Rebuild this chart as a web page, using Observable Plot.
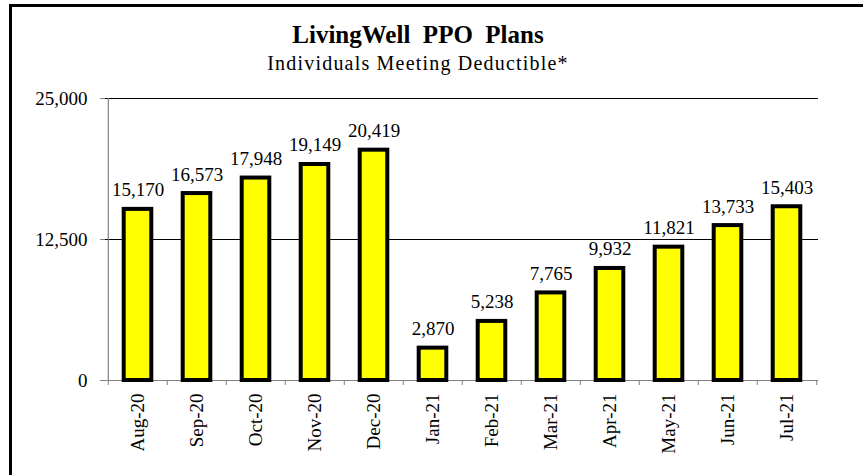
<!DOCTYPE html>
<html>
<head>
<meta charset="utf-8">
<script src="https://cdn.jsdelivr.net/npm/d3@7"></script>
<script src="https://cdn.jsdelivr.net/npm/@observablehq/plot@0.6"></script>
<style>
  html, body { margin: 0; padding: 0; background: #fff; }
  #wrap { position: relative; width: 863px; height: 475px; overflow: hidden; font-family: "Liberation Serif", serif; }
  #frame { position: absolute; left: 9px; top: 4px; width: 900px; height: 520px; border: 3px solid #000; box-sizing: border-box; }
  #title { position: absolute; left: 0; width: 836px; top: 21px; text-align: center; font-weight: bold; font-size: 25px; white-space: pre; line-height: 28px; }
  #subtitle { position: absolute; left: 0; width: 836px; top: 52px; text-align: center; font-size: 20px; letter-spacing: 1.2px; line-height: 22px; }
  #chart { position: absolute; left: 0; top: 0; }
</style>
</head>
<body>
<div id="wrap">
  <div id="frame"></div>
  <div id="chart"></div>
  <div id="title">LivingWell  PPO  Plans</div>
  <div id="subtitle">Individuals Meeting Deductible*</div>
</div>
<script>
const months = ["Aug-20","Sep-20","Oct-20","Nov-20","Dec-20","Jan-21","Feb-21","Mar-21","Apr-21","May-21","Jun-21","Jul-21"];
const values = [15170, 16573, 17948, 19149, 20419, 2870, 5238, 7765, 9932, 11821, 13733, 15403];
const yTicks = [0, 12500, 25000];

const data = months.map((m, i) => ({month: m, value: values[i]}));

const W = 863, H = 475, mL = 105, mR = 45, mT = 98, mB = 95;
const bw = (W - mL - mR) / months.length;
const gray = "#808080";
const fmt = d3.format(",");

const chart = Plot.plot({
  width: W,
  height: H,
  marginLeft: mL,
  marginRight: mR,
  marginTop: mT,
  marginBottom: mB,
  style: {fontFamily: "Liberation Serif, serif", fontSize: "19px", color: "#000", background: "transparent"},
  x: {type: "band", domain: months, padding: 0, axis: null, label: null},
  y: {domain: [0, 25000], axis: null, label: null},
  marks: [
    Plot.ruleY(yTicks.filter(d => d > 0), {stroke: "#000", strokeWidth: 1.2}),
    Plot.ruleY([0], {stroke: gray, strokeWidth: 1.2}),
    Plot.ruleX([months[0]], {dx: -bw / 2, y1: 0, y2: 25000, stroke: gray, strokeWidth: 1.2}),
    Plot.axisY({ticks: yTicks, tickFormat: fmt, tickSize: 5, tickPadding: 13, stroke: gray, fill: "#000", fontSize: 19, label: null}),
    Plot.axisX({ticks: months, tickFormat: () => "", tickSize: 5, dx: -bw / 2, stroke: gray, label: null}),
    Plot.axisX({ticks: [months[months.length - 1]], tickFormat: () => "", tickSize: 5, dx: bw / 2, stroke: gray, label: null}),
    Plot.axisX({ticks: months, tickSize: 0, tickPadding: 13, tickRotate: -90, fill: "#000", fontSize: 19, label: null}),
    Plot.barY(data, {x: "month", y: "value", fill: "#ffff00", stroke: "#000", strokeWidth: 4, insetLeft: 15.7, insetRight: 15.7}),
    Plot.text(data, {x: "month", y: "value", text: d => fmt(d.value), lineAnchor: "bottom", dy: -13, fill: "#000", fontSize: 19})
  ]
});
document.getElementById("chart").appendChild(chart);
</script>
</body>
</html>
